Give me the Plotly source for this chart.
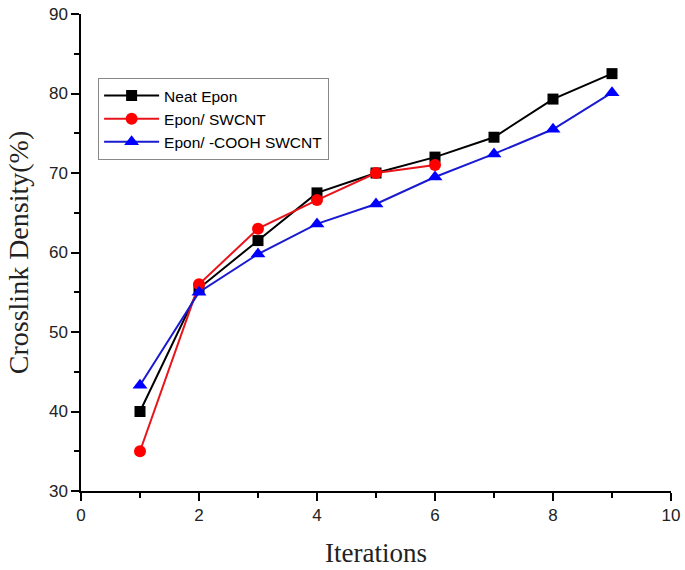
import plotly.graph_objects as go

iterations_neat = [1, 2, 3, 4, 5, 6, 7, 8, 9]
neat_epon = [40.0, 55.5, 61.5, 67.5, 70.0, 72.0, 74.5, 79.3, 82.5]

iterations_swcnt = [1, 2, 3, 4, 5, 6]
epon_swcnt = [35.0, 56.0, 63.0, 66.6, 70.0, 71.0]

iterations_cooh = [1, 2, 3, 4, 5, 6, 7, 8, 9]
epon_cooh = [43.3, 55.0, 59.8, 63.6, 66.1, 69.5, 72.4, 75.5, 80.1]

x_ticks = [0, 2, 4, 6, 8, 10]
y_ticks = [30, 40, 50, 60, 70, 80, 90]

fig = go.Figure()
fig.add_trace(go.Scatter(x=iterations_neat, y=neat_epon, mode="lines+markers",
                         name="Neat Epon",
                         line=dict(color="black", width=2),
                         marker=dict(symbol="square", size=11, color="black")))
fig.add_trace(go.Scatter(x=iterations_swcnt, y=epon_swcnt, mode="lines+markers",
                         name="Epon/ SWCNT",
                         line=dict(color="#e8141b", width=2),
                         marker=dict(symbol="circle", size=12, color="#ff0000")))
fig.add_trace(go.Scatter(x=iterations_cooh, y=epon_cooh, mode="lines+markers",
                         name="Epon/ -COOH SWCNT",
                         line=dict(color="#1a1ad0", width=2),
                         marker=dict(symbol="triangle-up", size=13, color="#0000ff")))

axis_common = dict(showgrid=False, zeroline=False, showline=True, linecolor="black",
                   linewidth=1.5, ticks="outside", ticklen=8, tickwidth=1.5,
                   tickcolor="black", mirror=False, automargin=False,
                   ticklabeloverflow="allow",
                   tickfont=dict(family="Liberation Sans, Arial", size=17, color="#222"))

fig.update_layout(
    width=685, height=570,
    margin=dict(l=81, r=14, t=14, b=79),
    paper_bgcolor="white", plot_bgcolor="white",
    xaxis=dict(range=[0, 10], tickvals=x_ticks,
               minor=dict(dtick=1, ticks="outside", ticklen=5, tickwidth=1.5, tickcolor="black"),
               title=dict(text="Iterations", font=dict(family="Liberation Serif, Times New Roman", size=27, color="#222"), standoff=19),
               **axis_common),
    yaxis=dict(range=[30, 90], tickvals=y_ticks,
               minor=dict(dtick=5, ticks="outside", ticklen=5, tickwidth=1.5, tickcolor="black"),
               title=dict(text="Crosslink Density(%)", font=dict(family="Liberation Serif, Times New Roman", size=28, color="#222"), standoff=12),
               **axis_common),
    legend=dict(x=0.029, y=0.866, xanchor="left", yanchor="top",
                bordercolor="#888", borderwidth=1, bgcolor="white",
                font=dict(family="Liberation Sans, Arial", size=15.5, color="black"),
                itemwidth=55, tracegroupgap=0),
    showlegend=True,
)

fig.write_html(
    "out.html",
    config={"displayModeBar": False},
    post_script="document.body.style.margin='0';document.documentElement.style.overflow='hidden';",
)
